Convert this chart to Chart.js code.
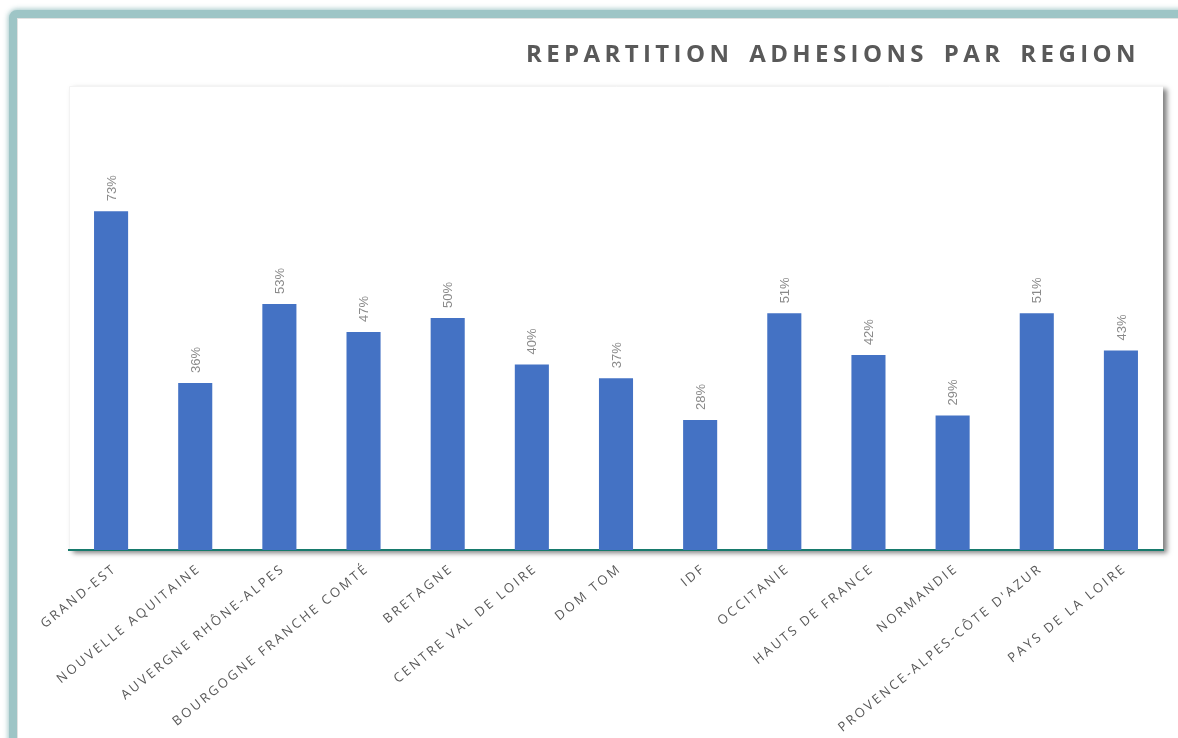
<!DOCTYPE html>
<html lang="fr">
<head>
<meta charset="utf-8">
<title>Repartition adhesions par region</title>
<script src="https://cdn.jsdelivr.net/npm/chart.js@4/dist/chart.umd.min.js"></script>
<style>
  html, body { margin: 0; padding: 0; background: #fff; overflow: hidden; }
  #page { position: relative; width: 1178px; height: 738px; }
  #frame {
    position: absolute; left: 9px; top: 10px; width: 1400px; height: 1000px;
    border: 8px solid #9ec5c6; border-radius: 8px;
    box-shadow: 0 0 5px 1px rgba(140, 185, 186, 0.8), inset 0 0 0 1px #e2e2e2;
    background: #fff;
  }
  #title {
    position: absolute; right: 38px; top: 36px; margin: 0;
    font: bold 24px "Open Sans", sans-serif; letter-spacing: 4.4px; word-spacing: -2.7px;
    color: #595959; white-space: pre;
  }
  canvas { position: absolute; left: 0; top: 0; }
</style>
</head>
<body>
<div id="page">
  <div id="frame"></div>
  <canvas id="chart" width="1178" height="738"></canvas>
  <h1 id="title">REPARTITION  ADHESIONS  PAR  REGION</h1>
</div>
<script>
const regions = [
  'GRAND-EST', 'NOUVELLE AQUITAINE', 'AUVERGNE RHÔNE-ALPES', 'BOURGOGNE FRANCHE COMTÉ',
  'BRETAGNE', 'CENTRE VAL DE LOIRE', 'DOM TOM', 'IDF', 'OCCITANIE', 'HAUTS DE FRANCE',
  'NORMANDIE', "PROVENCE-ALPES-CÔTE D'AZUR", 'PAYS DE LA LOIRE'
];
const adhesions = [73, 36, 53, 47, 50, 40, 37, 28, 51, 42, 29, 51, 43];

// white plot area with a soft drop shadow
const plotShadow = {
  id: 'plotShadow',
  beforeDraw(chart) {
    const { ctx, chartArea: a } = chart;
    ctx.save();
    ctx.shadowColor = 'rgba(0, 0, 0, 0.5)';
    ctx.shadowBlur = 5;
    ctx.shadowOffsetX = 4;
    ctx.shadowOffsetY = 3;
    ctx.fillStyle = '#fff';
    ctx.fillRect(a.left, a.top, a.right - a.left, a.bottom - a.top);
    ctx.restore();
    ctx.save();
    ctx.strokeStyle = '#f3f3f3';
    ctx.lineWidth = 1;
    ctx.beginPath();
    ctx.moveTo(a.left + 0.5, a.bottom);
    ctx.lineTo(a.left + 0.5, a.top + 0.5);
    ctx.lineTo(a.right, a.top + 0.5);
    ctx.stroke();
    ctx.restore();
  }
};

// vertical percentage above each bar
const valueLabels = {
  id: 'valueLabels',
  afterDatasetsDraw(chart) {
    const { ctx } = chart;
    const meta = chart.getDatasetMeta(0);
    ctx.save();
    ctx.font = '13px "Liberation Sans Narrow", sans-serif';
    ctx.fillStyle = '#8a8a8a';
    ctx.textAlign = 'left';
    ctx.textBaseline = 'middle';
    meta.data.forEach((bar, i) => {
      ctx.save();
      ctx.translate(bar.x + 1, bar.y - 10);
      ctx.rotate(-Math.PI / 2);
      ctx.fillText(adhesions[i] + '%', 0, 0);
      ctx.restore();
    });
    ctx.restore();
  }
};

// slanted, letter-spaced category labels
const regionLabels = {
  id: 'regionLabels',
  afterDraw(chart) {
    const { ctx } = chart;
    const x = chart.scales.x;
    const base = chart.chartArea.bottom;
    ctx.save();
    ctx.font = '13px "Open Sans", sans-serif';
    ctx.letterSpacing = '2.5px';
    ctx.fillStyle = '#595959';
    ctx.textAlign = 'right';
    ctx.textBaseline = 'middle';
    regions.forEach((name, i) => {
      ctx.save();
      ctx.translate(x.getPixelForTick(i) + 4, base + 17);
      ctx.rotate(-39 * Math.PI / 180);
      ctx.fillText(name, 0, 0);
      ctx.restore();
    });
    ctx.restore();
  }
};

new Chart(document.getElementById('chart'), {
  type: 'bar',
  data: {
    labels: regions,
    datasets: [{
      data: adhesions,
      backgroundColor: '#4472c4',
      categoryPercentage: 1,
      barPercentage: 0.405
    }]
  },
  options: {
    responsive: false,
    animation: false,
    layout: { padding: { left: 69, right: 15, top: 86, bottom: 0 } },
    plugins: {
      legend: { display: false },
      tooltip: { enabled: false }
    },
    scales: {
      x: {
        grid: { display: false },
        ticks: { display: false },
        border: { display: true, color: '#177a6c', width: 2, dash: [15, 4, 2, 4, 2, 4] },
        afterFit(scale) { scale.height = 188; }
      },
      y: {
        display: false,
        min: 0,
        max: 100
      }
    }
  },
  plugins: [plotShadow, valueLabels, regionLabels]
});
</script>
</body>
</html>
